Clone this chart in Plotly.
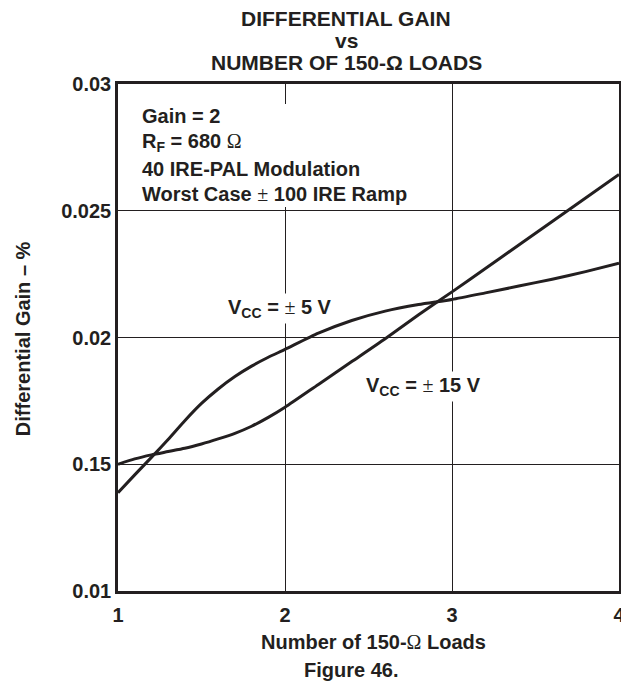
import plotly.graph_objects as go

# ---- data ----
loads = [1.0, 1.1, 1.2, 1.3, 1.4, 1.5, 1.6, 1.7, 1.8, 1.9, 2.0,
         2.2, 2.4, 2.6, 2.8, 3.0, 3.2, 3.4, 3.6, 3.8, 4.0]
gain_vcc5 = [0.01388, 0.01458, 0.01527, 0.01598, 0.01672, 0.01740, 0.01797, 0.01846,
             0.01887, 0.01922, 0.01953, 0.02017, 0.02067, 0.02104, 0.02130, 0.02150,
             0.02176, 0.02203, 0.02230, 0.02260, 0.02293]
gain_vcc15 = [0.01500, 0.01521, 0.01537, 0.01550, 0.01563, 0.01580, 0.01600, 0.01622,
              0.01650, 0.01685, 0.01725, 0.01815, 0.01905, 0.01995, 0.02090, 0.02180,
              0.02272, 0.02365, 0.02458, 0.02550, 0.02643]
y_tick_vals = [0.01, 0.015, 0.02, 0.025, 0.03]
y_tick_text = ["0.01", "0.15", "0.02", "0.025", "0.03"]
x_tick_vals = [1, 2, 3, 4]
x_tick_text = ["1", "2", "3", "4"]

INK = "#231f20"
FONT = "Liberation Sans, Arial, Helvetica, sans-serif"
SERIF = "Liberation Serif, Times New Roman, serif"

# figure geometry (figure pixels; page adds an 8 px body margin)
W, H = 629, 684
OFF = 8
L, R, T, B = 110, 617, 76, 583


def fx(xpage):
    return (xpage - OFF - L) / (R - L)


def fy(ypage):
    return (B - (ypage - OFF)) / (B - T)


def sym(ch):
    return f'<span style="font-family:{SERIF};font-weight:normal">{ch}</span>'


fig = go.Figure()
fig.add_trace(go.Scatter(x=loads, y=gain_vcc5, mode="lines", name="VCC = ±5 V",
                         line=dict(color=INK, width=3, shape="spline", smoothing=0.6)))
fig.add_trace(go.Scatter(x=loads, y=gain_vcc15, mode="lines", name="VCC = ±15 V",
                         line=dict(color=INK, width=3, shape="spline", smoothing=0.6)))

fig.update_layout(
    width=W, height=H,
    margin=dict(l=L, r=W - R, t=T, b=H - B, pad=0),
    paper_bgcolor="white", plot_bgcolor="white",
    showlegend=False,
    font=dict(family=FONT, color=INK, size=20, weight="bold"),
)
fig.update_xaxes(range=[1, 4], tickvals=x_tick_vals, ticktext=x_tick_text,
                 showgrid=True, gridcolor=INK, gridwidth=1,
                 showline=True, linecolor=INK, linewidth=2.5, mirror=True,
                 ticks="", zeroline=False, tickfont=dict(size=20),
                 ticklabelstandoff=4)
fig.update_yaxes(range=[0.01, 0.03], tickvals=y_tick_vals, ticktext=y_tick_text,
                 showgrid=True, gridcolor=INK, gridwidth=1,
                 showline=True, linecolor=INK, linewidth=2.5, mirror=True,
                 ticks="", zeroline=False, tickfont=dict(size=20))

# white box behind the condition text
fig.add_shape(type="rect", xref="paper", yref="paper",
              x0=fx(122), x1=fx(425), y0=fy(207), y1=fy(104),
              fillcolor="white", line=dict(width=0), layer="above")

ann = []
title_lines = ["DIFFERENTIAL GAIN", "vs", "NUMBER OF 150-Ω LOADS"]
title_y = [18, 40, 62]
for txt, yy in zip(title_lines, title_y):
    ann.append(dict(text=txt, x=fx(349), y=fy(yy), xref="paper", yref="paper",
                    xanchor="center", yanchor="middle", showarrow=False,
                    font=dict(size=21)))
info_lines = ["Gain = 2",
              f"R<sub>F</sub> = 680 {sym('Ω')}",
              "40 IRE-PAL Modulation",
              f"Worst Case {sym('±')} 100 IRE Ramp"]
info_y = [116, 142, 169, 194]
for txt, yy in zip(info_lines, info_y):
    ann.append(dict(text=txt, x=fx(140), y=fy(yy), xref="paper", yref="paper",
                    xanchor="left", yanchor="middle", showarrow=False,
                    font=dict(size=20)))
ann.append(dict(text=f"V<sub>CC</sub> = {sym('±')} 5 V", x=fx(226), y=fy(308),
                xref="paper", yref="paper", xanchor="left", yanchor="middle",
                showarrow=False, bgcolor="white", borderpad=2, font=dict(size=20)))
ann.append(dict(text=f"V<sub>CC</sub> = {sym('±')} 15 V", x=fx(366), y=fy(387),
                xref="paper", yref="paper", xanchor="left", yanchor="middle",
                showarrow=False, bgcolor="white", borderpad=2, font=dict(size=20)))
ann.append(dict(text="Differential Gain – %", x=fx(22), y=fy(339), xref="paper", yref="paper",
                xanchor="center", yanchor="middle", textangle=-90, showarrow=False,
                font=dict(size=20)))
ann.append(dict(text=f"Number of 150-{sym('Ω')} Loads", x=fx(377), y=fy(642),
                xref="paper", yref="paper", xanchor="center", yanchor="middle",
                showarrow=False, font=dict(size=20)))
ann.append(dict(text="Figure 46.", x=fx(354), y=fy(670), xref="paper", yref="paper",
                xanchor="center", yanchor="middle", showarrow=False,
                font=dict(size=20)))
fig.update_layout(annotations=ann)

fig.write_html("out.html")
